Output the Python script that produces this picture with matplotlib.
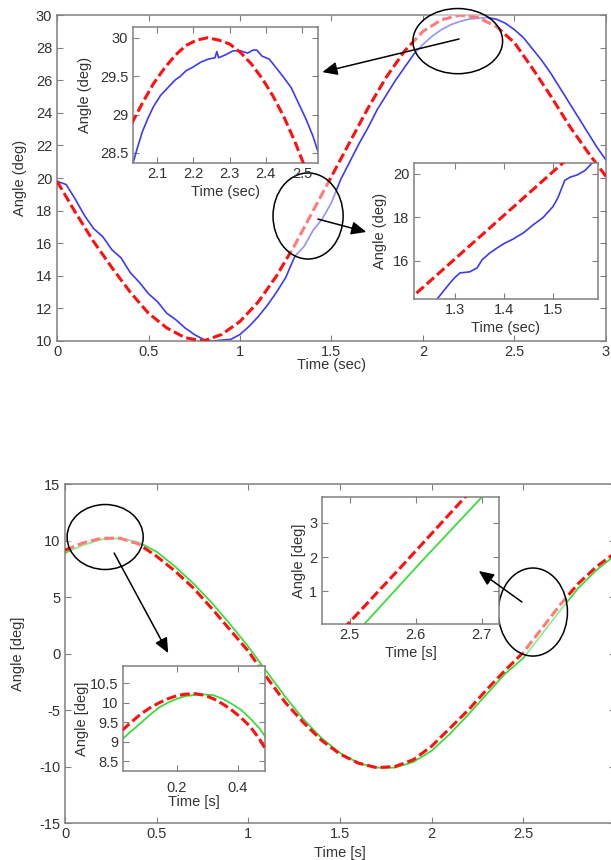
import matplotlib.pyplot as plt
import matplotlib.ticker as ticker
import numpy as np
from matplotlib.patches import Ellipse
from matplotlib.text import Annotation

plt.rcParams["font.family"] = ["Liberation Sans", "DejaVu Sans"]
plt.rcParams["font.size"] = 10

TEXT = "#333333"
FRAME = "#808080"
RED = "#ff1010"
BLUE = "#3b3bf5"
GREEN = "#3cdc3c"

# ---- upper chart: reference (red) and measured (blue), time in sec ----
top_t = np.linspace(0, 3, 31)
top_ref = [19.8, 17.9, 16.1, 14.5, 13.0, 11.7, 10.8, 10.2, 10.0, 10.4, 11.2,
           12.4, 14.0, 15.9, 18.0, 20.1, 22.2, 24.3, 26.2, 27.8, 29.0, 29.7,
           30.0, 29.85, 29.3, 28.3, 26.7, 25.0, 23.2, 21.6, 20.1]
top_meas_t = np.linspace(0, 3, 61)
top_meas = [19.8, 19.6, 18.7, 17.7, 16.9, 16.4, 15.6, 15.1, 14.2, 13.6, 12.9,
            12.4, 11.7, 11.3, 10.8, 10.4, 10.1, 10.0, 10.05, 10.1, 10.4, 10.9,
            11.5, 12.2, 13.0, 13.9, 15.2, 15.8, 16.8, 17.5, 18.5, 19.9, 21.0,
            22.1, 23.1, 24.2, 25.1, 26.0, 26.8, 27.6, 28.2, 28.7, 29.1, 29.4,
            29.6, 29.75, 29.8, 29.85, 29.75, 29.5, 29.1, 28.6, 27.9, 27.2,
            26.4, 25.5, 24.6, 23.7, 22.8, 21.9, 21.1]

# zoom on the peak (upper left inset)
peak_ref_t = [2.03, 2.06, 2.09, 2.12, 2.15, 2.18, 2.21, 2.24, 2.27, 2.30, 2.33,
              2.36, 2.39, 2.42, 2.45, 2.48, 2.51, 2.54]
peak_ref = [28.88, 29.15, 29.40, 29.60, 29.77, 29.90, 29.97, 30.0, 29.97, 29.92,
            29.81, 29.66, 29.47, 29.24, 28.97, 28.65, 28.29, 27.9]
peak_meas_t = [2.03, 2.045, 2.06, 2.075, 2.09, 2.11, 2.13, 2.15, 2.165, 2.18,
               2.20, 2.22, 2.24, 2.26, 2.265, 2.27, 2.29, 2.31, 2.33, 2.35,
               2.365, 2.375, 2.39, 2.41, 2.43, 2.45, 2.47, 2.49, 2.51, 2.53, 2.545]
peak_meas = [28.3, 28.55, 28.78, 28.95, 29.1, 29.25, 29.35, 29.45, 29.5, 29.57,
             29.62, 29.68, 29.72, 29.74, 29.82, 29.74, 29.78, 29.83, 29.83, 29.80,
             29.84, 29.84, 29.76, 29.72, 29.6, 29.48, 29.35, 29.15, 28.95, 28.72, 28.5]

# zoom on the rising slope (lower right inset)
rise_ref_t = [1.20, 1.30, 1.40, 1.50, 1.53]
rise_ref = [14.1, 16.1, 18.1, 20.1, 20.7]
rise_meas_t = [1.255, 1.265, 1.29, 1.30, 1.31, 1.33, 1.345, 1.355, 1.37, 1.386,
               1.40, 1.418, 1.44, 1.459, 1.48, 1.50, 1.51, 1.524, 1.535, 1.549,
               1.565, 1.58, 1.59]
rise_meas = [14.05, 14.3, 15.0, 15.25, 15.45, 15.5, 15.68, 16.05, 16.35, 16.6,
             16.8, 17.0, 17.3, 17.65, 18.0, 18.5, 18.9, 19.7, 19.85, 19.95,
             20.15, 20.5, 20.7]

# ---- lower chart: reference (red) and measured (green), time in s ----
bot_t = np.linspace(0, 3, 31)
bot_ref = [9.15, 9.8, 10.2, 10.2, 9.7, 8.6, 7.3, 5.8, 4.0, 2.1, 0.2, -2.1,
           -4.3, -6.1, -7.7, -8.9, -9.7, -10.1, -10.0, -9.4, -8.2, -6.6, -5.0,
           -3.2, -1.5, 0.1, 2.2, 4.3, 6.2, 7.7, 8.9]
bot_meas = [8.9, 9.6, 10.1, 10.2, 9.85, 9.0, 7.7, 6.2, 4.5, 2.6, 0.6, -1.6,
            -3.8, -5.8, -7.5, -8.8, -9.7, -10.1, -10.1, -9.6, -8.6, -7.1, -5.4,
            -3.6, -1.8, -0.4, 1.7, 3.8, 5.8, 7.4, 8.7]

# zoom on the first peak (lower left inset)
hump_t = [0.02, 0.05, 0.08, 0.11, 0.14, 0.17, 0.20, 0.23, 0.26, 0.29, 0.32,
          0.35, 0.38, 0.41, 0.44, 0.47, 0.49]
hump_ref = [9.29, 9.50, 9.70, 9.86, 9.99, 10.10, 10.18, 10.22, 10.23, 10.19,
            10.10, 9.97, 9.81, 9.62, 9.39, 9.08, 8.82]
hump_meas = [9.06, 9.27, 9.47, 9.68, 9.87, 10.0, 10.1, 10.17, 10.2, 10.21,
             10.19, 10.1, 9.97, 9.82, 9.6, 9.35, 9.13]

# zoom on the zero crossing (upper right inset)
cross_ref_t = [2.49, 2.58, 2.68]
cross_ref = [-0.1, 1.76, 3.86]
cross_meas_t = [2.515, 2.61, 2.71]
cross_meas = [-0.1, 1.9, 3.95]


def style_axes(ax, xlim, ylim, xticks, yticks, xlabel, ylabel, xlab_y, ylab_x, pad=3):
    ax.set_xlim(*xlim)
    ax.set_ylim(*ylim)
    ax.set_xticks(xticks)
    ax.set_yticks(yticks)
    ax.xaxis.set_major_formatter(ticker.FormatStrFormatter("%g"))
    ax.yaxis.set_major_formatter(ticker.FormatStrFormatter("%g"))
    ax.tick_params(direction="in", top=True, right=True, length=4, width=0.8,
                   color=FRAME, labelcolor=TEXT, labelsize=10.5)
    ax.tick_params(axis="x", pad=pad)
    for spine in ax.spines.values():
        spine.set_color(FRAME)
        spine.set_linewidth(1.1)
    ax.set_xlabel(xlabel, color=TEXT, fontsize=10.5, va="center")
    ax.xaxis.set_label_coords(0.5, xlab_y)
    ax.set_ylabel(ylabel, color=TEXT, fontsize=10.5, va="center")
    ax.yaxis.set_label_coords(ylab_x, 0.5)


def zoom_mark(fig, ax, center, size, start, end):
    # ellipse on the main chart, arrow on top of everything (it may end inside an inset)
    ax.add_patch(Ellipse(center, size[0], size[1], facecolor=(1, 1, 1, 0.45),
                         edgecolor="black", lw=1.1, zorder=5, clip_on=False))
    arrow = Annotation("", xy=end, xytext=start, xycoords=ax.transData,
                       textcoords=ax.transData, annotation_clip=False,
                       arrowprops=dict(arrowstyle="-|>,head_length=0.9,head_width=0.4",
                                       color="black", lw=1.1, shrinkA=0, shrinkB=0))
    fig.add_artist(arrow)


def plot_pair(ax, ref_t, ref, meas_t, meas, meas_color, meas_lw=1.2):
    ax.plot(meas_t, meas, color=meas_color, lw=meas_lw, zorder=2)
    ax.plot(ref_t, ref, color=RED, lw=2.2, ls=(0, (3.2, 1.3)), zorder=3)


fig = plt.figure(figsize=(6.11, 8.6), dpi=100)

# upper chart
ax = fig.add_axes([0.0933, 0.6035, 0.8985, 0.379])
plot_pair(ax, top_t, top_ref, top_meas_t, top_meas, BLUE)
style_axes(ax, (0, 3), (10, 30), np.arange(0, 3.01, 0.5), np.arange(10, 31, 2),
           "Time (sec)", "Angle (deg)", -0.074, -0.067)
zoom_mark(fig, ax, (2.19, 28.4), (0.49, 4.0), (2.197, 28.53), (1.45, 26.5))
zoom_mark(fig, ax, (1.372, 17.67), (0.383, 5.28), (1.426, 17.48), (1.69, 16.69))

ins = fig.add_axes([0.2177, 0.8105, 0.3028, 0.1581])
plot_pair(ins, peak_ref_t, peak_ref, peak_meas_t, peak_meas, BLUE)
style_axes(ins, (2.034, 2.544), (28.37, 30.14), [2.1, 2.2, 2.3, 2.4, 2.5],
           [28.5, 29, 29.5, 30], "Time (sec)", "Angle (deg)", -0.213, -0.26)

ins = fig.add_axes([0.6776, 0.6523, 0.3011, 0.1581])
plot_pair(ins, rise_ref_t, rise_ref, rise_meas_t, rise_meas, BLUE)
style_axes(ins, (1.216, 1.592), (14.25, 20.5), [1.3, 1.4, 1.5], [16, 18, 20],
           "Time (sec)", "Angle (deg)", -0.213, -0.185)

# lower chart (its right edge runs off the picture)
ax = fig.add_axes([0.1064, 0.043, 0.9002, 0.3942])
plot_pair(ax, bot_t, bot_ref, bot_t, bot_meas, GREEN, 1.3)
style_axes(ax, (0, 3), (-15, 15), np.arange(0, 2.51, 0.5), np.arange(-15, 16, 5),
           "Time [s]", "Angle [deg]", -0.088, -0.085)
zoom_mark(fig, ax, (0.219, 10.31), (0.415, 5.75), (0.268, 8.89), (0.563, 0.04))
zoom_mark(fig, ax, (2.552, 3.67), (0.377, 7.79), (2.492, 4.56), (2.257, 7.3))

ins = fig.add_axes([0.527, 0.2744, 0.2897, 0.1477])
plot_pair(ins, cross_ref_t, cross_ref, cross_meas_t, cross_meas, GREEN, 1.3)
style_axes(ins, (2.458, 2.726), (0.05, 3.75), [2.5, 2.6, 2.7], [1, 2, 3],
           "Time [s]", "Angle [deg]", -0.228, -0.13)

ins = fig.add_axes([0.2013, 0.1035, 0.2324, 0.1221])
plot_pair(ins, hump_t, hump_ref, hump_t, hump_meas, GREEN, 1.3)
style_axes(ins, (0.023, 0.489), (8.25, 10.94), [0.2, 0.4],
           [8.5, 9, 9.5, 10, 10.5], "Time [s]", "Angle [deg]", -0.295, -0.29, pad=7)

fig.savefig("out.png", dpi=100)
